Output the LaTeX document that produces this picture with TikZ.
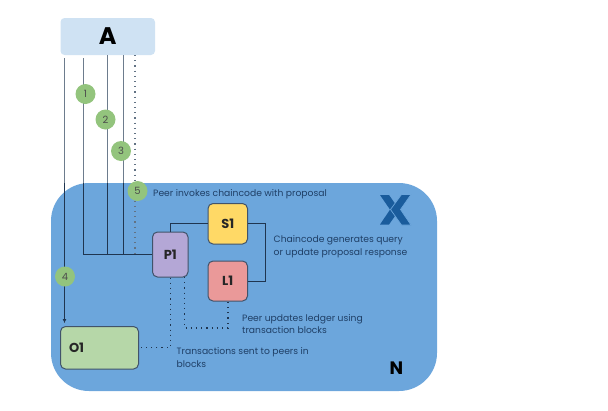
\documentclass[tikz,border=0pt]{standalone}
\usepackage{fontspec}
\setmainfont{Poppins}
\usetikzlibrary{arrows.meta,positioning}
\definecolor{netblue}{HTML}{6CA6DC}
\definecolor{appblue}{HTML}{CFE2F3}
\definecolor{stepgreen}{HTML}{93C47D}
\definecolor{ink}{HTML}{1F3550}
\definecolor{capt}{HTML}{1F3F66}
\definecolor{logoblue}{HTML}{1A5C9C}
\definecolor{peerfill}{HTML}{B4A7D6}
\definecolor{codefill}{HTML}{FFD966}
\definecolor{ledgerfill}{HTML}{EA9999}
\definecolor{ordererfill}{HTML}{B6D7A8}
\tikzset{
  x=1pt,y=-1pt,
  box/.style={draw=ink!85,line width=1pt,rounded corners=5pt,inner sep=0pt,font=\fontsize{13}{13}\selectfont\bfseries,text=black!85},
  stepdot/.style={circle,fill=stepgreen,minimum size=20pt,inner sep=0pt,font=\fontsize{10}{10}\selectfont,text=black!70},
  link/.style={draw=ink,line width=.8pt},
  dotlink/.style={draw=ink,line width=1.2pt,dash pattern=on 1.2pt off 4pt},
  caption/.style={anchor=north west,align=left,inner sep=0pt,text=capt,font=\fontsize{9.2}{12.3}\selectfont},
}
\begin{document}
\begin{tikzpicture}
\useasboundingbox (0,0) rectangle (608,410);
% network area
\fill[netblue,rounded corners=38pt] (51,183) rectangle (437,391);
% application box
\node[fill=appblue,rounded corners=4pt,minimum width=94.5pt,minimum height=37pt,inner sep=0pt,font=\fontsize{24}{24}\selectfont\bfseries,text=black] (A) at (107.75,36.5) {A};
% components
\node[box,fill=peerfill,minimum width=35.5pt,minimum height=45pt] (P1) at (170.25,254.5) {\raisebox{-.8pt}{P1}};
\node[box,fill=codefill,minimum width=39.5pt,minimum height=40.5pt] (S1) at (227.75,223.75) {\raisebox{-.8pt}{S1}};
\node[box,fill=ledgerfill,minimum width=39.5pt,minimum height=40pt] (L1) at (227.75,281) {\raisebox{-.8pt}{L1}};
\node[box,fill=ordererfill,minimum width=78pt,minimum height=42.5pt,text width=61pt,align=left] (O1) at (99.5,347.75) {\raisebox{-.8pt}{O1}};
% anchors along the application box and turning points
\coordinate (a4) at (64.5,58);
\coordinate (a1) at (83,58);
\coordinate (a2) at (107,55);
\coordinate (a3) at (123,55);
\coordinate (a5) at (135,55);
\coordinate (o1top) at (64.5,323);
\coordinate (p1foot) at (184.5,277);
% request lines: grey outside the network area
\draw[link,draw=ink!65] (a1) |- (P1.west);
\draw[link,draw=ink!65] (a2) -- (a2 |- P1.west);
\draw[link,draw=ink!65] (a3) -- (a3 |- P1.west);
\draw[dotlink,draw=ink!70] (a5) -- (a5 |- P1.west);
\draw[link,draw=ink!65] (a4) -- (o1top);
% the same lines run darker across the network area
\begin{scope}
\clip (51,183) rectangle (437,391);
\draw[link] (a1) |- (P1.west);
\draw[link] (a2) -- (a2 |- P1.west);
\draw[link] (a3) -- (a3 |- P1.west);
\draw[link,-{Latex[length=4pt,width=4pt]}] (a4) -- (o1top);
\end{scope}
% peer, chaincode and ledger links
\draw[link] (P1.north) |- (S1.west);
\draw[link] (S1.east) -- ++(17.5,0) |- (L1.east);
\draw[dotlink] (P1.south) |- (O1.east);
\draw[dotlink] (p1foot) |- (228,328) -- (228,301);
% step markers
\node[stepdot] (s1) at (85.5,94) {1};
\node[stepdot] (s2) at (105.5,119.5) {2};
\node[stepdot] (s3) at (121,151) {3};
\node[stepdot] (s4) at (65,276.5) {4};
\node[stepdot] (s5) at (137.5,191) {5};
% captions
\node[caption] (c5) at (153,189) {Peer invokes chaincode with proposal};
\node[caption] (c2) at (273.5,235.5) {Chaincode generates query\\or update proposal response};
\node[caption] (c3) at (242,314) {Peer updates ledger using\\transaction blocks};
\node[caption] (c4) at (176.5,347.5) {Transactions sent to peers in\\blocks};
\node[font=\fontsize{18}{18}\selectfont\bfseries,text=black] (N) at (396.5,368) {N};
% logo mark
\fill[logoblue] (380,195) -- (389,195) -- (396,205) -- (391,211) -- cycle;
\fill[logoblue] (380,224.5) -- (389,224.5) -- (395,216) -- (390.5,209) -- cycle;
\fill[logoblue,draw=netblue,line width=.7pt] (411,194.5) -- (401.5,194.5) -- (390.5,209.5) -- (401.5,225) -- (411,225) -- (400.5,209.5) -- cycle;
\end{tikzpicture}
\end{document}
